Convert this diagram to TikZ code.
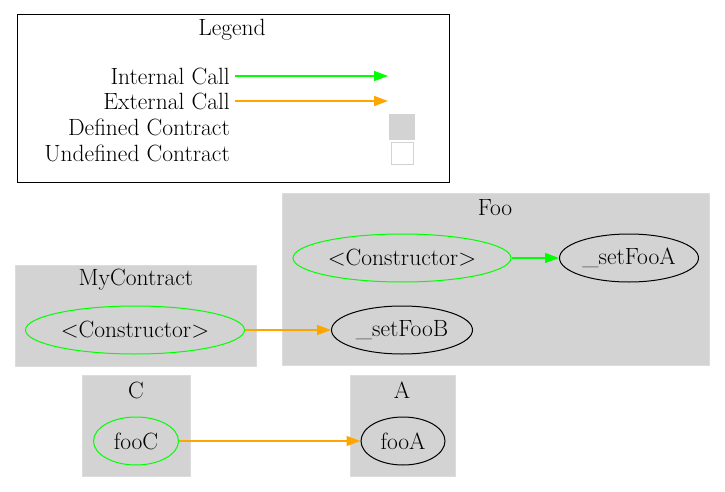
\documentclass[tikz,border=0pt]{standalone}
\usetikzlibrary{shapes.geometric,arrows.meta}
\definecolor{callgreen}{RGB}{0,255,0}
\definecolor{callorange}{RGB}{255,165,0}
\definecolor{clustergray}{RGB}{211,211,211}
\tikzset{
  fn/.style={shape=ellipse, draw=black, line width=1pt, inner sep=0pt, minimum height=48pt},
  defined/.style={fn, draw=callgreen},
  cluster/.style={fill=clustergray, draw=clustergray!80!white},
  call/.style={line width=1.4pt, -{Triangle[length=14pt,width=10pt]}},
}
\begin{document}
\begin{tikzpicture}[x=1pt, y=-1pt, font=\fontsize{23.5}{28}\selectfont]
\useasboundingbox (0,0) rectangle (725,492);
% legend
\draw[black, line width=1pt] (17,15) rectangle (449,182);
\node (legend) at (232,30) {Legend};
\node[anchor=east, inner sep=0pt] (internal) at (230,76) {Internal Call};
\node[anchor=east, inner sep=0pt] (external) at (230,101) {External Call};
\node[anchor=east, inner sep=0pt] (defc) at (230,127) {Defined Contract};
\node[anchor=east, inner sep=0pt] (undefc) at (230,153) {Undefined Contract};
\coordinate (i1) at (235,76); \coordinate (i2) at (388,76);
\coordinate (e1) at (235,101); \coordinate (e2) at (388,101);
\node[fill=clustergray, minimum width=26pt, minimum height=26pt, inner sep=0pt] (defbox) at (402,127) {};
\node[draw=clustergray, line width=1pt, minimum width=22pt, minimum height=22pt, inner sep=0pt] (undefbox) at (402,153) {};
\draw [call, callgreen] (i1) -- (i2);
\draw [call, callorange] (e1) -- (e2);
% clusters
\fill[cluster] (282,193) rectangle (709,365);
\node (foo) at (495,208) {Foo};
\fill[cluster] (15,265) rectangle (256,366);
\node (mycontract) at (136,280) {MyContract};
\fill[cluster] (82,375) rectangle (190,476);
\node (c) at (136,390) {C};
\fill[cluster] (350,375) rectangle (455,476);
\node (a) at (402,390) {A};
% functions
\node[defined, minimum width=218pt] (fooctor) at (402,258) {<Constructor>};
\node[fn, minimum width=139pt] (setfooa) at (629,258) {\_setFooA};
\node[fn, minimum width=141pt] (setfoob) at (402,330) {\_setFooB};
\node[defined, minimum width=219pt] (myctor) at (135,330) {<Constructor>};
\node[defined, minimum width=85pt] (fooc) at (136,441) {fooC};
\node[fn, minimum width=84pt] (fooa) at (403,441) {fooA};
\draw [call, callgreen] (fooctor) -- (setfooa);
\draw [call, callorange] (myctor) -- (setfoob);
\draw [call, callorange] (fooc) -- (fooa);
\end{tikzpicture}
\end{document}
